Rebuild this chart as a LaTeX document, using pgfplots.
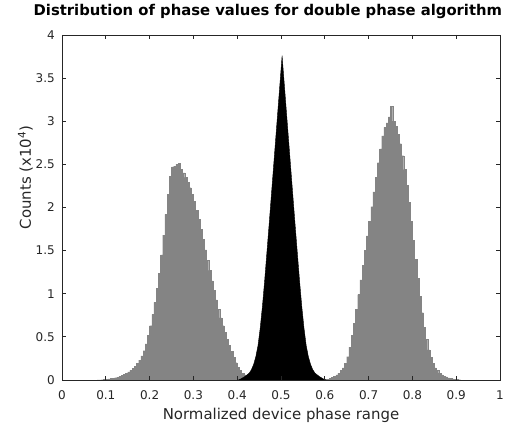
\documentclass[border=0pt]{standalone}
\usepackage{fontspec}
\setmainfont{DejaVu Sans}
\usepackage{pgfplots}
\usepackage{pgfplotstable}
\pgfplotsset{compat=1.18}

\definecolor{axgray}{RGB}{38,38,38}
\definecolor{histgray}{RGB}{132,132,132}

% left edge of each bin, count (x10^4); last row closes the interval
\pgfplotstableread{
x y
0.080 0.000
0.085 0.002
0.090 0.004
0.095 0.006
0.100 0.009
0.105 0.012
0.110 0.016
0.115 0.021
0.120 0.027
0.125 0.034
0.130 0.042
0.135 0.052
0.140 0.064
0.145 0.078
0.150 0.095
0.155 0.115
0.160 0.135
0.165 0.160
0.170 0.190
0.175 0.230
0.180 0.280
0.185 0.340
0.190 0.420
0.195 0.520
0.200 0.630
0.205 0.760
0.210 0.900
0.215 1.060
0.220 1.240
0.225 1.450
0.230 1.680
0.235 1.920
0.240 2.150
0.245 2.360
0.250 2.470
0.255 2.480
0.260 2.500
0.265 2.510
0.270 2.440
0.275 2.400
0.280 2.350
0.285 2.290
0.290 2.230
0.295 2.150
0.300 2.070
0.305 1.970
0.310 1.860
0.315 1.750
0.320 1.630
0.325 1.510
0.330 1.390
0.335 1.270
0.340 1.150
0.345 1.040
0.350 0.930
0.355 0.820
0.360 0.720
0.365 0.630
0.370 0.550
0.375 0.470
0.380 0.400
0.385 0.330
0.390 0.260
0.395 0.200
0.400 0.150
0.405 0.110
0.410 0.080
0.415 0.060
0.420 0.040
0.425 0.030
0.430 0.020
0.435 0.015
0.440 0.010
0.445 0.005
0.450 0.002
0.455 0.000
}\grayleft

\pgfplotstableread{
x y
0.590 0.000
0.595 0.002
0.600 0.005
0.605 0.010
0.610 0.020
0.615 0.030
0.620 0.045
0.625 0.060
0.630 0.080
0.635 0.110
0.640 0.140
0.645 0.190
0.650 0.270
0.655 0.380
0.660 0.520
0.665 0.660
0.670 0.820
0.675 0.990
0.680 1.160
0.685 1.330
0.690 1.500
0.695 1.670
0.700 1.840
0.705 2.010
0.710 2.180
0.715 2.350
0.720 2.520
0.725 2.680
0.730 2.830
0.735 2.930
0.740 2.980
0.745 3.050
0.750 3.170
0.755 3.000
0.760 2.940
0.765 2.850
0.770 2.740
0.775 2.600
0.780 2.440
0.785 2.260
0.790 2.060
0.795 1.840
0.800 1.620
0.805 1.400
0.810 1.180
0.815 0.970
0.820 0.780
0.825 0.610
0.830 0.470
0.835 0.350
0.840 0.260
0.845 0.190
0.850 0.140
0.855 0.110
0.860 0.080
0.865 0.060
0.870 0.045
0.875 0.035
0.880 0.025
0.885 0.018
0.890 0.012
0.895 0.008
0.900 0.005
0.905 0.003
0.910 0.000
}\grayright

% black peak, bin centres
\pgfplotstableread{
x y
0.4025 0.000
0.4075 0.010
0.4125 0.025
0.4175 0.040
0.4225 0.060
0.4275 0.080
0.4325 0.120
0.4375 0.180
0.4425 0.270
0.4475 0.400
0.4525 0.600
0.4575 0.850
0.4625 1.140
0.4675 1.460
0.4725 1.780
0.4775 2.110
0.4825 2.440
0.4875 2.770
0.4925 3.100
0.4975 3.430
0.5025 3.760
0.5075 3.430
0.5125 3.100
0.5175 2.770
0.5225 2.440
0.5275 2.110
0.5325 1.780
0.5375 1.460
0.5425 1.140
0.5475 0.850
0.5525 0.600
0.5575 0.400
0.5625 0.270
0.5675 0.180
0.5725 0.120
0.5775 0.080
0.5825 0.060
0.5875 0.040
0.5925 0.025
0.5975 0.010
0.6025 0.000
}\blackpeak

\begin{document}
\begin{tikzpicture}
\begin{axis}[
    name=ax,
    scale only axis,
    width=328.5pt, height=258.75pt,
    xmin=0, xmax=1, ymin=0, ymax=4,
    axis on top,
    axis line style={axgray, line width=0.6pt},
    every tick/.style={axgray, line width=0.6pt},
    tick align=inside,
    major tick length=3pt,
    xtick={0,0.1,0.2,0.3,0.4,0.5,0.6,0.7,0.8,0.9,1},
    xticklabels={0,0.1,0.2,0.3,0.4,0.5,0.6,0.7,0.8,0.9,1},
    ytick={0,0.5,1,1.5,2,2.5,3,3.5,4},
    yticklabels={0,0.5,1,1.5,2,2.5,3,3.5,4},
    /pgf/number format/assume math mode=true,
    ticklabel style={font=\fontsize{9}{10}\selectfont, text=axgray},
    xticklabel style={anchor=base, yshift=-15pt},
    yticklabel style={inner sep=0pt, xshift=-5.25pt},
    title={Distribution of phase values for double phase algorithm},
    title style={font=\bfseries\fontsize{11.1}{13}\selectfont,
        at={(axis description cs:0.47,1)}, anchor=base, yshift=8.25pt},
    xlabel={Normalized device phase range},
    xlabel style={font=\fontsize{11.2}{13}\selectfont, text=axgray,
        at={(axis description cs:0.5,0)}, anchor=base, yshift=-30pt},
    ylabel={Counts (x10\textsuperscript{4})},
    ylabel style={font=\fontsize{11.2}{13}\selectfont, text=axgray,
        at={([xshift=-23.25pt]axis description cs:0,0.587)}, anchor=base},
]
\addplot[const plot mark left, fill=histgray, draw=histgray, line width=0.2pt] table {\grayleft} \closedcycle;
\addplot[const plot mark left, fill=histgray, draw=histgray, line width=0.2pt] table {\grayright} \closedcycle;
\addplot[sharp plot, fill=black, draw=black, line width=0.3pt] table {\blackpeak} \closedcycle;
\end{axis}
\path (ax.south west) ++(-46.5pt,-35.25pt) rectangle ([shift={(9.75pt,26.25pt)}]ax.north east);
\end{tikzpicture}
\end{document}
